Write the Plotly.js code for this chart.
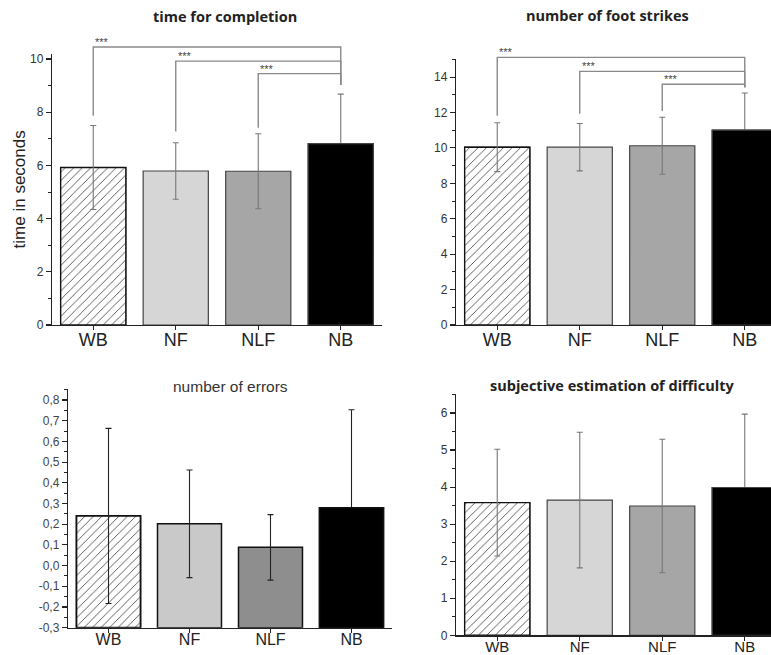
<!DOCTYPE html>
<html>
<head>
<meta charset="utf-8">
<script src="https://cdn.plot.ly/plotly-3.0.1.min.js"></script>
<style>
html,body{margin:0;padding:0;background:#fff;}
#chart{width:771px;height:655px;}
</style>
</head>
<body>
<div id="chart"></div>
<script>
// ---------- data ----------
const categories = ['WB', 'NF', 'NLF', 'NB'];

const timeMean = [5.92, 5.79, 5.78, 6.82];
const timeSD   = [1.58, 1.06, 1.41, 1.86];

const strikeMean = [10.04, 10.04, 10.12, 11.0];
const strikeSD   = [1.38, 1.34, 1.61, 2.1];

const errorMean = [0.24, 0.202, 0.088, 0.28];
const errorSD   = [0.423, 0.26, 0.158, 0.473];

const diffMean = [3.58, 3.65, 3.49, 3.99];
const diffSD   = [1.44, 1.83, 1.80, 1.98];

// significance brackets (each group vs NB)
const sigLeft = ['WB', 'NF', 'NLF'];
const sigRight = 'NB';
const sigLabel = '***';
const timeSigTop  = [10.45, 9.92, 9.45];
const timeSigBase = [7.87, 7.27, 7.42];
const timeSigRightBase = 9.02;
const strikeSigTop  = [15.11, 14.32, 13.59];
const strikeSigBase = [11.82, 11.93, 12.08];
const strikeSigRightBase = 13.42;

const errorTickVals = [-0.3, -0.2, -0.1, 0.0, 0.1, 0.2, 0.3, 0.4, 0.5, 0.6, 0.7, 0.8];
const errorTickText = ['-0,3', '-0,2', '-0,1', '0,0', '0,1', '0,2', '0,3', '0,4', '0,5', '0,6', '0,7', '0,8'];

const titles = ['time for completion', 'number of foot strikes', 'number of errors', 'subjective estimation of difficulty'];
const yTitle1 = 'time in seconds';

// ---------- styling ----------
const W = 771, H = 655;
function xd(a, b) { return [a / W, Math.min(1, b / W)]; }
function yd(bot, top) { return [1 - bot / H, 1 - top / H]; }

const FONT = 'Liberation Sans, Arial, sans-serif';
const barColorsA = ['white', '#d6d6d6', '#a6a6a6', '#000000'];
const barColorsB = ['white', '#c9c9c9', '#8e8e8e', '#000000'];

// 1) plain bars, 2) hatched WB bar, 3) error bars, 4) black NB bar redrawn on top
function panelTraces(means, sds, xa, ya, colors, lineColor, lineW, errColor, base) {
  const len = means.map(v => v - base);
  return [
    {type: 'bar', x: categories, y: len, base: base, xaxis: xa, yaxis: ya,
     marker: {color: colors, line: {color: lineColor, width: lineW}},
     hoverinfo: 'skip', showlegend: false},
    {type: 'bar', x: [categories[0]], y: [len[0]], base: base, xaxis: xa, yaxis: ya,
     marker: {color: 'white', line: {color: '#111', width: lineW + 0.2},
              pattern: {shape: '/', fgcolor: '#333', bgcolor: 'white', size: 6, solidity: 0.13, fillmode: 'replace'}},
     hoverinfo: 'skip', showlegend: false},
    {type: 'bar', x: categories, y: len, base: base, xaxis: xa, yaxis: ya,
     marker: {color: 'rgba(0,0,0,0)', line: {width: 0}},
     error_y: {type: 'data', array: sds, visible: true, color: errColor, thickness: 1.1, width: 3},
     hoverinfo: 'skip', showlegend: false},
    {type: 'bar', x: [categories[3]], y: [len[3]], base: base, xaxis: xa, yaxis: ya,
     marker: {color: colors[3], line: {color: lineColor, width: lineW}},
     hoverinfo: 'skip', showlegend: false}
  ];
}
function bracketTraces(tops, bases, rightBase, xa, ya) {
  return sigLeft.map((c, i) => ({
    type: 'scatter', mode: 'lines', xaxis: xa, yaxis: ya,
    x: [c, c, sigRight, sigRight],
    y: [bases[i], tops[i], tops[i], rightBase],
    line: {color: '#8a8a8a', width: 1.4},
    hoverinfo: 'skip', showlegend: false
  }));
}

// pixel scales (px per data unit)
const k1 = 26.6, k2 = 17.71, k4 = 37.05;
const p1x = xd(52, 382), p2x = xd(456, 771), p3x = xd(68, 392), p4x = xd(456, 771);
const xr1 = [-0.5, 3.5], xr2 = [-0.5, -0.5 + (771 - 456) / 82.5], xr3 = [-0.5, 3.5];
const errRange = [-0.3, 0.853];

const traces = [
  ...panelTraces(timeMean, timeSD, 'x', 'y', barColorsA, '#444', 1.2, '#777', 0),
  ...panelTraces(strikeMean, strikeSD, 'x2', 'y2', barColorsA, '#444', 1.2, '#777', 0),
  ...panelTraces(errorMean, errorSD, 'x3', 'y3', barColorsB, '#111', 1.5, '#222', errRange[0]),
  ...panelTraces(diffMean, diffSD, 'x4', 'y4', barColorsA, '#444', 1.2, '#777', 0),
  ...bracketTraces(timeSigTop, timeSigBase, timeSigRightBase, 'x5', 'y5'),
  ...bracketTraces(strikeSigTop, strikeSigBase, strikeSigRightBase, 'x6', 'y6')
];

function xAxis(dom, range, fontSize, standoff, visible) {
  return {
    type: 'category', domain: dom, range: range, categoryorder: 'array', categoryarray: categories,
    showline: visible, linecolor: '#222', linewidth: 1.2, mirror: false,
    ticks: visible ? 'outside' : '', ticklen: 4, tickwidth: 1.1, tickcolor: '#222',
    ticklabelstandoff: standoff,
    showticklabels: visible, tickfont: {family: FONT, size: fontSize, color: '#222'},
    showgrid: false, zeroline: false, fixedrange: true, visible: visible
  };
}
function yAxis(dom, range, dtick, minorDtick, anchor, tickColor) {
  return {
    domain: dom, range: range, anchor: anchor, dtick: dtick, tick0: 0,
    showline: true, linecolor: '#222', linewidth: 1.2,
    ticks: 'outside', ticklen: 5, tickwidth: 1.1, tickcolor: '#222',
    minor: {ticks: 'outside', ticklen: 3, tickwidth: 1, tickcolor: '#222', dtick: minorDtick, tick0: 0},
    tickfont: {family: FONT, size: 12, color: tickColor || '#333'},
    showgrid: false, zeroline: false, fixedrange: true
  };
}

const layout = {
  width: W, height: H,
  margin: {l: 0, r: 0, t: 0, b: 0},
  paper_bgcolor: 'white', plot_bgcolor: 'rgba(0,0,0,0)',
  barmode: 'overlay', bargap: 0.21,
  showlegend: false,
  xaxis:  Object.assign(xAxis(p1x, xr1, 18, -6, true), {anchor: 'y'}),
  yaxis:  Object.assign(yAxis(yd(325, 325 - 10.2 * k1), [0, 10.2], 2, 1, 'x'), {
            title: {text: yTitle1, font: {family: FONT, size: 17, color: '#222'}, standoff: 0}}),
  xaxis2: Object.assign(xAxis(p2x, xr2, 18, -6, true), {anchor: 'y2'}),
  yaxis2: yAxis(yd(325, 325 - 15 * k2), [0, 15], 2, 1, 'x2'),
  xaxis3: Object.assign(xAxis(p3x, xr3, 16, -7, true), {anchor: 'y3'}),
  yaxis3: Object.assign(yAxis(yd(627.7, 389), errRange, null, 0.05, 'x3', '#444'), {
            tickmode: 'array', tickvals: errorTickVals, ticktext: errorTickText,
            minor: {ticks: 'outside', ticklen: 3, tickwidth: 1, tickcolor: '#222', dtick: 0.05, tick0: 0}}),
  xaxis4: Object.assign(xAxis(p4x, xr2, 15, -7, true), {anchor: 'y4'}),
  yaxis4: yAxis(yd(635.3, 635.3 - 6.5 * k4), [0, 6.5], 1, 0.5, 'x4'),
  // invisible overlay subplots for significance brackets (taller than the plot areas)
  xaxis5: Object.assign(xAxis(p1x, xr1, 18, 0, false), {anchor: 'y5'}),
  yaxis5: {domain: yd(325, 28), range: [0, (325 - 28) / k1], visible: false, anchor: 'x5', fixedrange: true},
  xaxis6: Object.assign(xAxis(p2x, xr2, 18, 0, false), {anchor: 'y6'}),
  yaxis6: {domain: yd(325, 28), range: [0, (325 - 28) / k2], visible: false, anchor: 'x6', fixedrange: true},
  annotations: [
    {text: '<b>' + titles[0] + '</b>', xref: 'paper', yref: 'paper', x: 225 / W, y: 1 - 17 / H,
     showarrow: false, xanchor: 'center', yanchor: 'middle', font: {family: 'Open Sans, sans-serif', size: 14.5, color: '#222'}},
    {text: '<b>' + titles[1] + '</b>', xref: 'paper', yref: 'paper', x: 607 / W, y: 1 - 15 / H,
     showarrow: false, xanchor: 'center', yanchor: 'middle', font: {family: 'Open Sans, sans-serif', size: 14.5, color: '#222'}},
    {text: titles[2], xref: 'paper', yref: 'paper', x: 230 / W, y: 1 - 386 / H,
     showarrow: false, xanchor: 'center', yanchor: 'middle', font: {family: FONT, size: 15.5, color: '#333'}},
    {text: '<b>' + titles[3] + '</b>', xref: 'paper', yref: 'paper', x: 612 / W, y: 1 - 385 / H,
     showarrow: false, xanchor: 'center', yanchor: 'middle', font: {family: 'Open Sans, sans-serif', size: 14.5, color: '#222'}},
    ...sigLeft.map((c, i) => ({text: sigLabel, xref: 'x5', yref: 'y5', x: c, y: timeSigTop[i],
      showarrow: false, xanchor: 'left', yanchor: 'bottom', xshift: 0, yshift: -3,
      font: {family: FONT, size: 11, color: '#444'}})),
    ...sigLeft.map((c, i) => ({text: sigLabel, xref: 'x6', yref: 'y6', x: c, y: strikeSigTop[i],
      showarrow: false, xanchor: 'left', yanchor: 'bottom', xshift: 0, yshift: -3,
      font: {family: FONT, size: 11, color: '#444'}}))
  ]
};

Plotly.newPlot('chart', traces, layout, {displayModeBar: false, staticPlot: true});
</script>
</body>
</html>
